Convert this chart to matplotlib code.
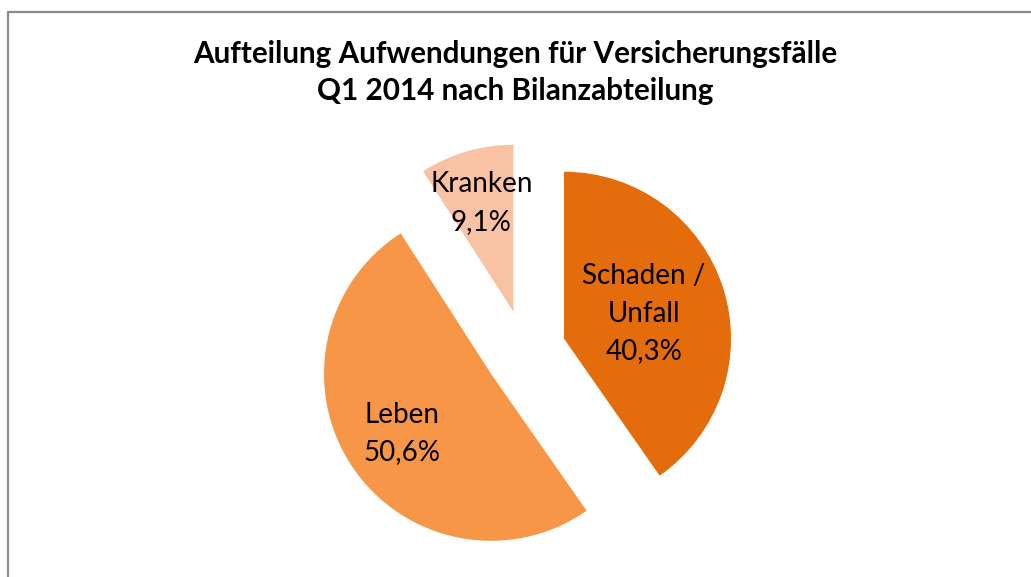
import numpy as np
import matplotlib
matplotlib.use("Agg")
import matplotlib.pyplot as plt
from matplotlib.patches import Rectangle

categories = ["Schaden /\nUnfall", "Leben", "Kranken"]
values = [40.3, 50.6, 9.1]
colors = ["#E46C0A", "#F79646", "#F9C2A5"]
explode = [0.245, 0.245, 0.245]
label_r = [0.50, 0.645, 0.68]
title = "Aufteilung Aufwendungen für Versicherungsfälle\nQ1 2014 nach Bilanzabteilung"

W, H = 1031, 577
fig = plt.figure(figsize=(W / 100, H / 100), dpi=100)
ax = fig.add_axes([0, 0, 1, 1])
ax.axis("off")

# pie center in pixels & radius in pixels
cx, cy_top, R = 525, 351, 167
cy = H - cy_top

wedges, _ = ax.pie(values, colors=colors, explode=explode, startangle=90,
                   counterclock=False, radius=1.0,
                   wedgeprops=dict(linewidth=0))
ax.set_xlim((0 - cx) / R, (W - cx) / R)
ax.set_ylim((0 - cy) / R, (H - cy) / R)
ax.set_aspect("auto")

for w, cat, v, r, e in zip(wedges, categories, values, label_r, explode):
    mid = np.deg2rad((w.theta1 + w.theta2) / 2)
    ox, oy = e * np.cos(mid), e * np.sin(mid)
    tx, ty = ox + r * np.cos(mid), oy + r * np.sin(mid)
    txt = f"{cat}\n{v:.1f}%".replace(".", ",")
    ax.text(tx, ty, txt, ha="center", va="center", fontsize=20,
            family="Lato", color="black", linespacing=1.55)

fig.text(0.5, 1 - 72.5 / H, title, ha="center", va="center", fontsize=21.3,
         family="Lato", weight="bold", linespacing=1.42)

fig.patches.append(Rectangle((7.5 / W, -0.1), 1.2, 1 - 11.5 / H + 0.1,
                             transform=fig.transFigure, fill=False,
                             edgecolor="#8C8C8C", linewidth=1.6))

fig.savefig("out.png", dpi=100)
